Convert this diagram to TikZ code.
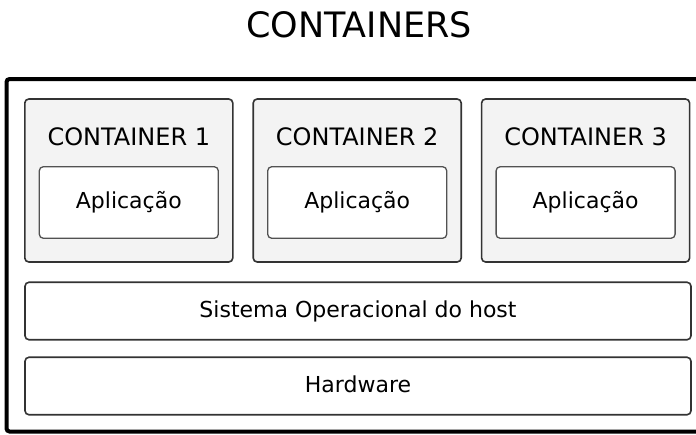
\documentclass[tikz,border=0pt]{standalone}
\usepackage{fontspec}
\setmainfont{DejaVu Sans}
\usepackage{xcolor}
\usepackage{tikz}
\usetikzlibrary{positioning,calc}

\definecolor{boxgray}{HTML}{F3F3F3}
\definecolor{edgegray}{HTML}{333333}

\begin{document}
\begin{tikzpicture}[x=1pt, y=-1pt,
  cbox/.style={draw=edgegray, line width=1.6pt, rounded corners=4pt, fill=boxgray, minimum width=208pt, minimum height=163pt, inner sep=0pt},
  appbox/.style={draw=edgegray!85, line width=1.3pt, rounded corners=4pt, fill=white, minimum width=179pt, minimum height=71.5pt, inner sep=0pt, text height=12.5pt, text depth=0pt, font=\fontsize{22}{26}\selectfont},
  layer/.style={draw=edgegray, line width=1.6pt, rounded corners=4pt, fill=white, minimum width=666pt, minimum height=57.5pt, inner sep=0pt, text height=12.5pt, text depth=0pt, font=\fontsize{22}{26}\selectfont}]
  \useasboundingbox (0,0) rectangle (696,434);
  \clip (0,0) rectangle (696,434);

  % Title
  \node[anchor=base, inner sep=0pt, font=\fontsize{35}{42}\selectfont] (title) at (359,37) {CONTAINERS};

  % Host frame (open to the right)
  \draw[line width=4pt, rounded corners=3pt] (6.5,79) rectangle (730,431.5);

  % Containers with their applications
  \foreach \i in {1,2,3} {
    \node[cbox] (c\i) at ({128.8+(\i-1)*228.4}, 180.5) {};
    \node[anchor=base, inner sep=0pt, font=\fontsize{24}{28}\selectfont] (t\i) at ({128.8+(\i-1)*228.4}, 145) {CONTAINER \i};
    \node[appbox] (a\i) at ({128.8+(\i-1)*228.4}, 202.5) {Aplicação};
  }

  % Host OS and hardware
  \node[layer] (os) at (358,311) {Sistema Operacional do host};
  \node[layer] (hw) at (358,386) {Hardware};
\end{tikzpicture}
\end{document}
